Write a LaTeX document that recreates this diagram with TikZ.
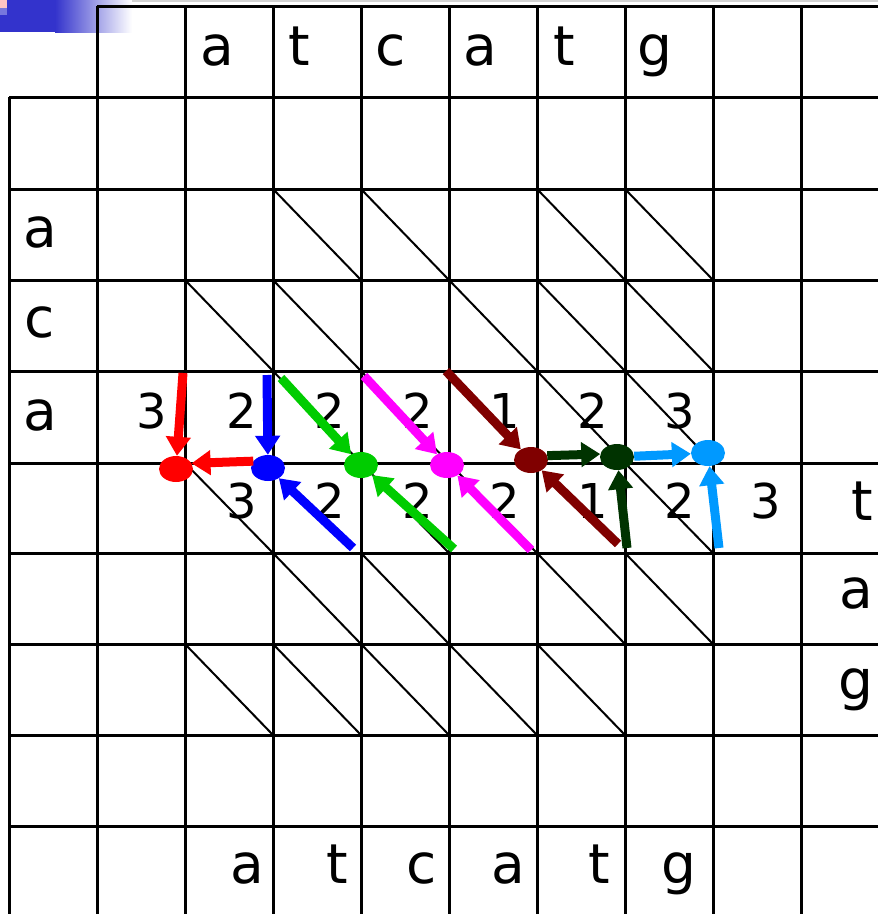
\documentclass[tikz,border=0pt]{standalone}
\usepackage{fontspec}
\setmainfont{DejaVu Sans}
\usepackage{tikz}
\usepackage{xcolor}
\usetikzlibrary{arrows.meta,shapes.geometric}
\definecolor{slideblue}{HTML}{3333CC}
\definecolor{slidepink}{HTML}{FFC4C4}
\definecolor{slidelilac}{HTML}{7777DD}
\definecolor{pathred}{HTML}{FF0000}
\definecolor{pathblue}{HTML}{0000FF}
\definecolor{pathgreen}{HTML}{00CC00}
\definecolor{pathmagenta}{HTML}{FF00FF}
\definecolor{pathmaroon}{HTML}{800000}
\definecolor{pathdkgreen}{HTML}{003300}
\definecolor{pathsky}{HTML}{0099FF}
\tikzset{
  gridline/.style={draw=black,line width=3pt},
  diagline/.style={draw=black,line width=2pt},
  seqlabel/.style={anchor=base,inner sep=0pt,font=\fontsize{55}{60}\selectfont},
  scorelabel/.style={anchor=base,inner sep=0pt,font=\fontsize{48}{52}\selectfont},
  pathdot/.style={ellipse,fill=#1,minimum width=34pt,minimum height=26pt,inner sep=0pt},
  patharr/.style={-{Triangle[length=19pt,width=24pt]},line width=9pt,color=#1}
}

\begin{document}
\begin{tikzpicture}[x=1pt,y=-1pt]
  \useasboundingbox (0,0) rectangle (878,914);
  \clip (0,0) rectangle (878,914);
  % slide corner
  \fill[slideblue] (0,0) rectangle (55,32);
  \shade[left color=slideblue,right color=white] (55,0) rectangle (132,32);
  \fill[slidepink] (0,0) rectangle (7,8);
  \fill[slidelilac] (0,8) rectangle (7,15);
  \draw[gray!35,line width=1.5pt] (132,1) -- (878,1);
  % grid
  \draw[gridline] (97,6) -- (878,6);
  \foreach \y in {97,189,280,371,463,553,644,735,826}
    \draw[gridline] (9,\y) -- (878,\y);
  \draw[gridline] (9,97) -- (9,914);
  \foreach \x in {97,185,...,801}
    \draw[gridline] (\x,6) -- (\x,914);
  % mismatch diagonals
  \foreach \t/\b/\cs in {189/280/{273,361,537,625},
                         280/371/{185,273,449,537,625},
                         371/463/{273,361,537,625},
                         463/553/{185,361,449,625},
                         553/644/{273,361,537,625},
                         644/735/{185,273,361,449,537}}
    \foreach \x in \cs
      \draw[diagline] (\x,\t) -- (\x+88,\b);

  % sequences
  \foreach \x/\ch [count=\i] in {217/a,299/t,391/c,480/a,564/t,655/g}
    \node[seqlabel] (top\i) at (\x,65) {\ch};
  \foreach \x/\ch [count=\i] in {247/a,337/t,422/c,508/a,599/t,679/g}
    \node[seqlabel] (bot\i) at (\x,883) {\ch};
  \foreach \y/\ch [count=\i] in {247/a,337/c,430/a}
    \node[seqlabel] (left\i) at (40,\y) {\ch};
  \foreach \x/\y/\ch [count=\i] in {862/520/t,856/608/a,856/699/g}
    \node[seqlabel] (right\i) at (\x,\y) {\ch};

  % scores
  \foreach \x/\s [count=\i] in {152/3,242/2,330/2,418/2,505/1,593/2,680/3}
    \node[scorelabel] (up\i) at (\x,428) {\s};
  \foreach \x/\s [count=\i] in {242/3,330/2,418/2,505/2,593/1,680/2,766/3}
    \node[scorelabel] (dn\i) at (\x,518) {\s};

  % path points
  \node[pathdot=pathred] (redpt) at (176,469) {};
  \node[pathdot=pathblue] (bluept) at (268,468) {};
  \node[pathdot=pathgreen] (greenpt) at (361,465) {};
  \node[pathdot=pathmagenta] (magpt) at (447,465) {};
  \node[pathdot=pathmaroon] (maroonpt) at (531,460) {};
  \node[pathdot=pathdkgreen] (dkgreenpt) at (617,457) {};
  \node[pathdot=pathsky] (skypt) at (708,453) {};

  \coordinate (redin) at (183,373);
  \coordinate (bluein) at (267,375);
  \coordinate (bluelow) at (353,548);
  \coordinate (greenin) at (281,378);
  \coordinate (greenlow) at (454,549);
  \coordinate (magin) at (364,376);
  \coordinate (maglow) at (531,550);
  \coordinate (maroonin) at (446,371);
  \coordinate (maroonlow) at (618,544);
  \coordinate (dkgreenlow) at (627,548);
  \coordinate (skylow) at (719,548);

  \draw[patharr=pathred] (redin) -- (redpt);
  \draw[patharr=pathred] (bluept.155) -- (redpt.20);
  \draw[patharr=pathblue] (bluein) -- (bluept);
  \draw[patharr=pathblue] (bluelow) -- (bluept);
  \draw[patharr=pathgreen] (greenin) -- (greenpt);
  \draw[patharr=pathgreen] (greenlow) -- (greenpt);
  \draw[patharr=pathmagenta] (magin) -- (magpt);
  \draw[patharr=pathmagenta] (maglow) -- (magpt);
  \draw[patharr=pathmaroon] (maroonin) -- (maroonpt);
  \draw[patharr=pathmaroon] (maroonlow) -- (maroonpt);
  \draw[patharr=pathdkgreen] (maroonpt.15) -- (dkgreenpt.170);
  \draw[patharr=pathdkgreen] (dkgreenlow) -- (dkgreenpt);
  \draw[patharr=pathsky] (dkgreenpt) -- (skypt);
  \draw[patharr=pathsky] (skylow) -- (skypt);
\end{tikzpicture}
\end{document}
